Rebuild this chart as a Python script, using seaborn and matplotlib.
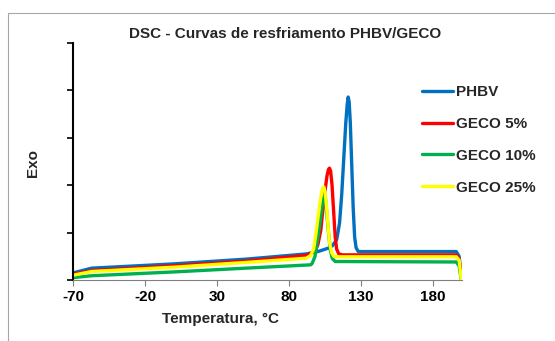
import matplotlib
matplotlib.use("Agg")
import matplotlib.pyplot as plt
import seaborn as sns
import pandas as pd
from matplotlib.patches import Rectangle
from matplotlib.lines import Line2D

# ---- data ----
phbv_t = [-70, -57, 0, 50, 92, 100, 108, 110, 113, 115, 116.5, 118, 119.3, 120.3, 121, 121.7, 122.5,
          123.5, 124.5, 125.5, 126.5, 128, 140, 196, 198, 199.5]
phbv_v = [0.15, 0.25, 0.34, 0.44, 0.55, 0.60, 0.68, 0.72, 0.85, 1.20, 1.80, 2.60, 3.30, 3.70, 3.86, 3.75, 3.30,
          2.40, 1.50, 0.90, 0.68, 0.60, 0.60, 0.60, 0.50, 0.05]

geco5_t = [-70, -57, 0, 50, 92, 98, 100, 102, 103.5, 105, 106.3, 107.3, 108, 108.8, 109.8, 111, 112, 113,
           114.5, 117, 196, 198, 199.5]
geco5_v = [0.12, 0.20, 0.30, 0.40, 0.52, 0.60, 0.75, 1.05, 1.50, 1.90, 2.20, 2.33, 2.36, 2.30, 2.00, 1.40, 0.90, 0.65,
           0.55, 0.53, 0.53, 0.45, 0.03]

geco10_t = [-70, -57, 0, 50, 95, 96, 98, 99.5, 101, 102.5, 103.7, 104.5, 105.3, 106.3, 107.5, 108.7, 110,
            112, 196, 198, 199.5]
geco10_v = [0.05, 0.09, 0.17, 0.25, 0.32, 0.35, 0.50, 0.80, 1.10, 1.45, 1.72, 1.79, 1.70, 1.35, 0.95, 0.62, 0.45,
            0.39, 0.38, 0.30, 0.00]

geco25_t = [-70, -57, 0, 50, 92, 95, 97, 98.5, 100, 101.5, 102.7, 103.5, 104.2, 105, 106, 107, 108, 109.5,
            111, 114, 196, 198, 199.5]
geco25_v = [0.10, 0.18, 0.27, 0.37, 0.46, 0.52, 0.65, 0.95, 1.30, 1.65, 1.87, 1.95, 1.96, 1.85, 1.55, 1.15, 0.80, 0.58,
            0.50, 0.49, 0.49, 0.42, 0.00]

series_names = ["PHBV", "GECO 5%", "GECO 10%", "GECO 25%"]
series_t = [phbv_t, geco5_t, geco10_t, geco25_t]
series_v = [phbv_v, geco5_v, geco10_v, geco25_v]
colors = ["#0070C0", "#FF0000", "#00B050", "#FFFF00"]

x_ticks = [-70, -20, 30, 80, 130, 180]

rows = []
for name, ts, vs in zip(series_names, series_t, series_v):
    for t, v in zip(ts, vs):
        rows.append({"T": t, "V": v, "serie": name})
df = pd.DataFrame(rows)

sns.set_theme(style="white")
plt.rcParams["font.family"] = ["Liberation Sans", "DejaVu Sans"]
plt.rcParams["lines.solid_joinstyle"] = "round"
plt.rcParams["lines.solid_capstyle"] = "round"

W, H = 555, 341
fig = plt.figure(figsize=(W / 100, H / 100), dpi=100)
fig.patch.set_facecolor("white")

# outer chart border
fig.add_artist(Rectangle((8 / W, -0.1), 1.2, 1 - 13 / H + 0.1, transform=fig.transFigure,
                         fill=False, edgecolor="#A6A6A6", linewidth=0.8))

ax = fig.add_axes([73 / W, (H - 280) / H, (462 - 73) / W, (280 - 43) / H])
ax.set_facecolor("none")

sns.lineplot(data=df, x="T", y="V", hue="serie", hue_order=series_names,
             palette=dict(zip(series_names, colors)), sort=False, estimator=None,
             linewidth=2.4, ax=ax, legend=False)

ax.set_xlim(-70, 200)
ax.set_ylim(0, 5)
ax.set_xticks(x_ticks)
ax.set_xticklabels([str(t) for t in x_ticks], fontsize=11, fontweight="bold")
ax.set_yticks([0, 1, 2, 3, 4, 5])
ax.set_yticklabels([])
ax.set_xlabel("")
ax.set_ylabel("")

for s in ["top", "right"]:
    ax.spines[s].set_visible(False)
ax.spines["left"].set_color("black")
ax.spines["left"].set_linewidth(1.5)
ax.spines["bottom"].set_color("#808080")
ax.spines["bottom"].set_linewidth(0.8)
ax.tick_params(axis="y", direction="out", length=4, width=1.2, color="black", left=True)
ax.tick_params(axis="x", direction="out", length=4, width=0.8, color="#808080", bottom=True,
               pad=3, labelcolor="black")

fig.text(285 / W, 1 - 34 / H, "DSC - Curvas de resfriamento PHBV/GECO",
         ha="center", va="center", fontsize=11, fontweight="bold")
fig.text(221 / W, 1 - 319 / H, "Temperatura, °C", ha="center", va="center",
         fontsize=11, fontweight="bold")
fig.text(33 / W, 1 - 163 / H, "Exo", ha="center", va="center", rotation=90,
         fontsize=11, fontweight="bold")

# legend
handles = [Line2D([0], [0], color=c, lw=2.4) for c in colors]
fig.legend(handles, series_names, loc="upper left",
           bbox_to_anchor=(422 / W, 1 - 85 / H), frameon=False,
           prop={"size": 11, "weight": "bold"}, handlelength=2.0,
           handletextpad=0.2, labelspacing=1.17, borderaxespad=0, borderpad=0)

fig.savefig("out.png", dpi=100, facecolor="white")
